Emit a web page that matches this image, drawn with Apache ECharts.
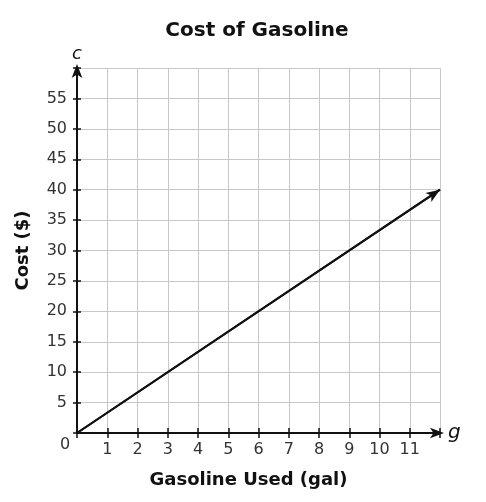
<!DOCTYPE html>
<html><head><meta charset="utf-8">
<script src="https://cdn.jsdelivr.net/npm/echarts@6/dist/echarts.min.js"></script>
<style>html,body{margin:0;padding:0;background:#fff}#c{width:486px;height:502px}</style>
</head><body><div id="c"></div>
<script>
var gallons = [0, 12];
var cost = [0, 40];
var xTickLabels = ['1','2','3','4','5','6','7','8','9','10','11'];
var yTickLabels = ['5','10','15','20','25','30','35','40','45','50','55'];
var F = 'DejaVu Sans, Verdana, sans-serif';
var GL = 77, GR = 46, GT = 68, GB = 69;
var GW = 486 - GL - GR, GH = 502 - GT - GB;
var chart = echarts.init(document.getElementById('c'));
var pts = gallons.map(function(g,i){return [g,cost[i]];});
var tickStyle = {color:'#111',width:1.5};
chart.setOption({
  animation:false,
  title:{text:'Cost of Gasoline',left:252,top:16,textAlign:'center',textStyle:{fontFamily:F,fontSize:20,fontWeight:'bold',color:'#111'}},
  grid:{left:GL,right:GR,top:GT,bottom:GB},
  xAxis:[{type:'value',min:0,max:12,interval:1,position:'bottom',
    name:'Gasoline Used (gal)',nameLocation:'middle',nameGap:38,
    nameTextStyle:{fontFamily:F,fontSize:18,fontWeight:'bold',color:'#111',padding:[0,20,0,0]},
    axisLine:{show:true,onZero:false,lineStyle:{color:'#111',width:2},symbol:['none','arrow'],symbolSize:[8,14],symbolOffset:[0,4]},
    axisTick:{show:true,length:5,lineStyle:tickStyle},
    axisLabel:{fontFamily:F,fontSize:16,color:'#333',margin:9,formatter:function(v){return xTickLabels.indexOf(String(v))>=0?String(v):'';}},
    splitLine:{show:true,lineStyle:{color:'#c8c8c8',width:1}}},
   {type:'value',min:0,max:12,interval:1,position:'top',offset:-GH,
    axisLine:{show:false,onZero:false},
    axisTick:{show:true,length:5,lineStyle:tickStyle},
    axisLabel:{show:false},splitLine:{show:false}}],
  yAxis:[{type:'value',min:0,max:60,interval:5,position:'left',
    name:'Cost ($)',nameLocation:'middle',nameGap:45,
    nameTextStyle:{fontFamily:F,fontSize:18,fontWeight:'bold',color:'#111'},
    axisLine:{show:true,onZero:false,lineStyle:{color:'#111',width:2},symbol:['none','arrow'],symbolSize:[8,14],symbolOffset:[0,4]},
    axisTick:{show:true,length:4,lineStyle:tickStyle},
    axisLabel:{fontFamily:F,fontSize:16,color:'#333',margin:10,formatter:function(v){return yTickLabels.indexOf(String(v))>=0?String(v):'';}},
    splitLine:{show:true,lineStyle:{color:'#c8c8c8',width:1}}},
   {type:'value',min:0,max:60,interval:5,position:'right',offset:-GW,
    axisLine:{show:false,onZero:false},
    axisTick:{show:true,length:4,lineStyle:tickStyle},
    axisLabel:{show:false},splitLine:{show:false}}],
  graphic:[
    {type:'text',left:60,top:437,style:{text:'0',font:'16px '+F,fill:'#333'}},
    {type:'text',left:72,top:45,style:{text:'c',font:'italic 18px '+F,fill:'#111'}},
    {type:'text',left:448,top:423,style:{text:'g',font:'italic 20px '+F,fill:'#111'}}
  ],
  series:[{type:'line',xAxisIndex:0,yAxisIndex:0,data:pts,symbol:'none',lineStyle:{color:'#111',width:2},
    markLine:{silent:true,symbol:['none','arrow'],symbolSize:[8,14],label:{show:false},
      lineStyle:{color:'#111',width:2,type:'solid'},
      data:[[{coord:pts[0]},{coord:pts[1]}]]}}]
});
</script></body></html>
